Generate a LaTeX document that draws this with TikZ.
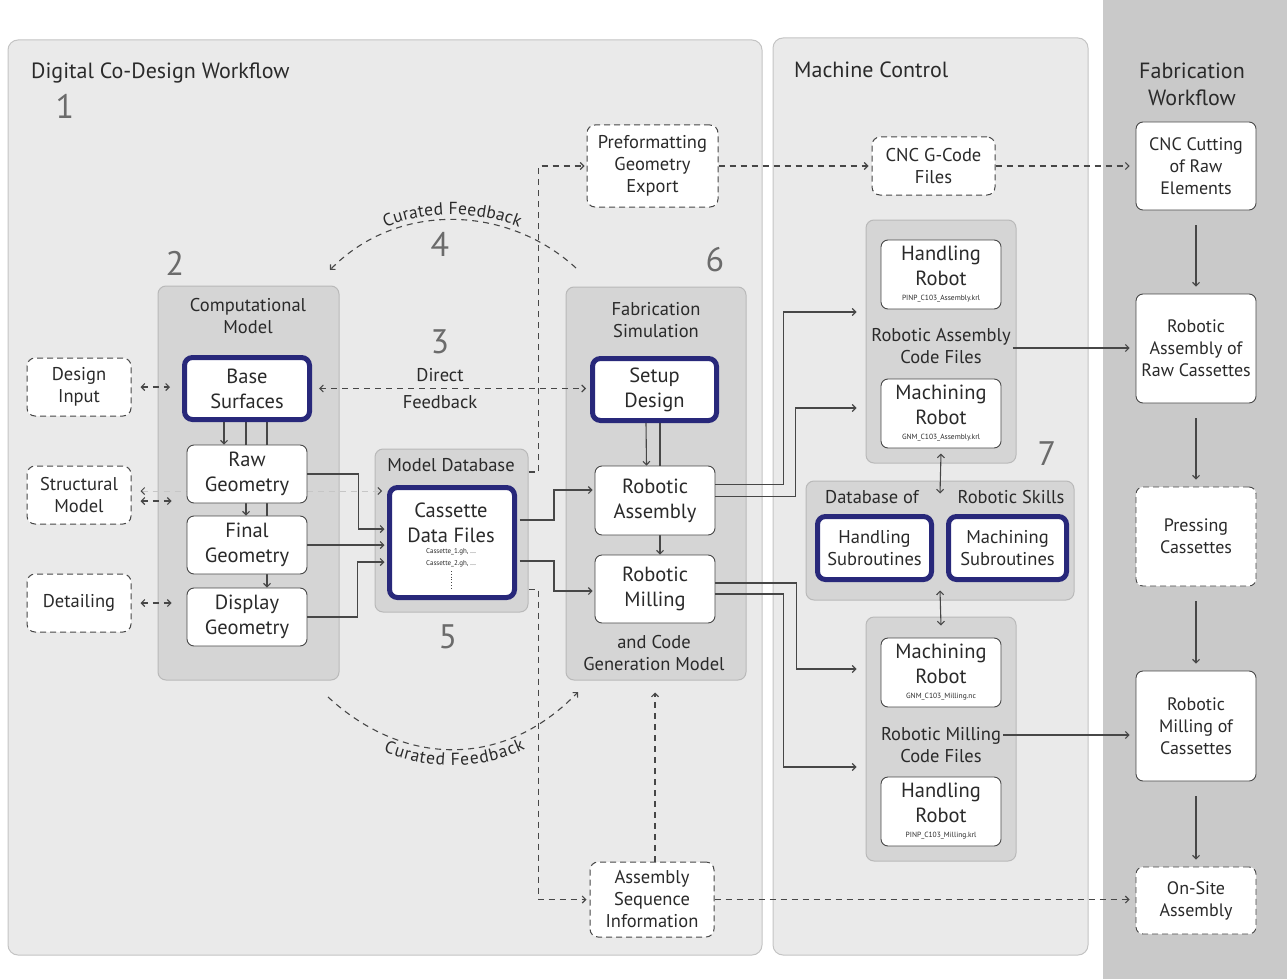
\documentclass[tikz,border=0pt]{standalone}
\usepackage{fontspec}
\setmainfont{PT Sans}
\usetikzlibrary{arrows.meta,calc,decorations.text}
\definecolor{navyc}{HTML}{28287A}
\definecolor{linec}{HTML}{474747}
\definecolor{txtc}{HTML}{2A2A2A}
\definecolor{numc}{HTML}{6B6B6B}
\definecolor{panelf}{HTML}{EAEAEA}
\definecolor{paneld}{HTML}{C4C4C4}
\definecolor{contf}{HTML}{D5D5D5}
\definecolor{contd}{HTML}{B9B9B9}
\definecolor{bandc}{HTML}{C9C9C9}
\definecolor{faintc}{HTML}{C6C6C6}
\pgfdeclarelayer{bg}
\pgfdeclarelayer{mid}
\pgfsetlayers{bg,mid,main}
\newcommand\smallfile[1]{{\fontsize{7.5}{9}\selectfont #1}}
\newcommand\cffont{\fontsize{17.5}{17.5}\selectfont\color{txtc}}
\tikzset{
  sz/.style 2 args={minimum width=#1pt, minimum height=#2pt},
  txt/.style={text=txtc, align=center, inner sep=0pt},
  fbig/.style={font=\fontsize{20.5}{25}\selectfont},
  fmid/.style={font=\fontsize{18.5}{22}\selectfont},
  fsml/.style={font=\fontsize{18}{22}\selectfont},
  ttl/.style={txt, font=\fontsize{22}{27}\selectfont},
  clab/.style={txt, fmid},
  num/.style={text=numc, inner sep=0pt, font=\fontsize{34}{34}\selectfont},
  panel/.style={draw=paneld, fill=panelf, line width=1pt, rounded corners=10pt, inner sep=0pt},
  cont/.style={draw=contd, fill=contf, line width=1pt, rounded corners=8pt, inner sep=0pt},
  wbox/.style={txt, fbig, draw=linec, line width=0.9pt, fill=white, rounded corners=7pt},
  nbox/.style={txt, fbig, draw=navyc, line width=5pt, fill=white, rounded corners=8pt},
  dbox/.style={txt, fmid, draw=linec, line width=1pt, fill=white, rounded corners=8pt, dash pattern=on 6pt off 4pt},
  fbox/.style={wbox, fsml},
  conn/.style={draw=linec, line width=1.1pt, ->},
  dconn/.style={conn, dash pattern=on 6pt off 5pt},
  bidash/.style={dconn, <->, shorten <=9pt, shorten >=6pt},
  faint/.style={draw=faintc, line width=1pt, dash pattern=on 6pt off 5pt,
    {Straight Barb[color=linec,length=3.5pt,width=7pt]}-{Straight Barb[color=linec,length=3.5pt,width=7pt]},
    shorten <=9pt, shorten >=5pt},
}
\begin{document}
\begin{tikzpicture}[x=1pt,y=-1pt,>={Straight Barb[length=3.5pt,width=7pt]}]
\useasboundingbox (0,0) rectangle (1287,979);

\begin{pgfonlayer}{bg}
\fill[white] (0,0) rectangle (1287,979);
\node[panel, sz={754}{915}] (p1) at (385,497.5) {};
\node[panel, sz={315}{917}] (p2) at (930.5,496.5) {};
\node[fill=bandc, inner sep=0pt, sz={184}{979}] (p3) at (1195,489.5) {};
\node[cont, sz={181}{394}] (cm) at (248.5,483) {};
\node[cont, sz={153}{163}] (mdb) at (451.5,530.5) {};
\node[cont, sz={180}{393}] (fs) at (656,483.5) {};
\node[cont, sz={150}{243}] (acf) at (941,341.5) {};
\node[cont, sz={268}{119}] (sk) at (940,540.5) {};
\node[cont, sz={150}{244}] (mcf) at (941,739) {};
\end{pgfonlayer}

% titles and numbers
\node[ttl, anchor=west] (t1) at (31,73) {Digital Co-Design Workflow};
\node[ttl, anchor=west] (t2) at (794,70) {Machine Control};
\node[ttl] (t3) at (1192,84) {Fabrication\\Workflow};
\node[num] (n1) at (65,106) {1};
\node[num] (n2) at (175,263) {2};
\node[num] (n3) at (440,342) {3};
\node[num] (n4) at (440,244) {4};
\node[num] (n5) at (448,637) {5};
\node[num] (n6) at (715,260) {6};
\node[num] (n7) at (1047,454) {7};

% container labels
\node[clab] (cmt) at (248,316) {Computational\\Model};
\node[clab] (mdt) at (451,465) {Model Database};
\node[clab] (fst) at (656,320) {Fabrication\\Simulation};
\node[clab] (fsb) at (654,653) {and Code\\Generation Model};
\node[clab] (acft) at (941,346) {Robotic Assembly\\Code Files};
\node[clab] (mcft) at (941,745) {Robotic Milling\\Code Files};
\node[clab] (sk1) at (872,497) {Database of};
\node[clab] (sk2) at (1011,497) {Robotic Skills};
\node[txt, font=\fontsize{18.5}{27}\selectfont] (dft) at (440,389) {Direct\\Feedback};

% boxes
\node[dbox, sz={104}{58}] (di) at (79,387) {Design\\Input};
\node[dbox, sz={104}{58}] (sm) at (79,495) {Structural\\Model};
\node[dbox, sz={104}{58}] (dt) at (79,603) {Detailing};
\node[nbox, sz={125}{62}] (base) at (247,388.5) {Base\\Surfaces};
\node[wbox, sz={120}{58}] (raw) at (247,474) {Raw\\Geometry};
\node[wbox, sz={120}{58}] (fin) at (247,545) {Final\\Geometry};
\node[wbox, sz={120}{58}] (disp) at (247,617) {Display\\Geometry};
\node[nbox, sz={125}{110}] (cass) at (452,542.5) {};
\node[txt, fbig] (casst) at (451,523) {Cassette\\Data Files};
\node[txt, font=\fontsize{7}{12}\selectfont] (cassf) at (451,558) {Cassette\_1.gh, ...\\Cassette\_2.gh, ...};
\draw[linec, dotted, line width=0.8pt] (451,571) -- (451,588);
\node[nbox, sz={124}{62}] (setup) at (654.5,389.5) {Setup\\Design};
\node[wbox, sz={120}{69}] (ra) at (655,500.5) {Robotic\\Assembly};
\node[wbox, sz={120}{68}] (rm) at (655,589) {Robotic\\Milling};
\node[dbox, sz={131}{82}] (pre) at (652.5,166) {Preformatting\\Geometry\\Export};
\node[dbox, sz={124}{75}] (asi) at (652,899.5) {Assembly\\Sequence\\Information};
\node[dbox, sz={123}{58}] (cnc) at (933.5,166) {CNC G-Code\\Files};
\node[wbox, sz={120}{69}] (hr1) at (941,274.5) {Handling\\Robot\\[-10pt]\smallfile{PINP\_C103\_Assembly.krl}};
\node[wbox, sz={120}{69}] (mr1) at (941,413.5) {Machining\\Robot\\[-10pt]\smallfile{GNM\_C103\_Assembly.krl}};
\node[nbox, fmid, sz={114}{63}] (hs) at (874.5,548) {Handling\\Subroutines};
\node[nbox, fmid, sz={118}{63}] (ms) at (1007.5,548) {Machining\\Subroutines};
\node[wbox, sz={120}{69}] (mr2) at (941,672.5) {Machining\\Robot\\[-10pt]\smallfile{GNM\_C103\_Milling.nc}};
\node[wbox, sz={120}{69}] (hr2) at (941,811.5) {Handling\\Robot\\[-10pt]\smallfile{PINP\_C103\_Milling.krl}};
\node[fbox, sz={120}{88}] (f1) at (1196,166) {CNC Cutting\\of Raw\\Elements};
\node[fbox, sz={120}{109}] (f2) at (1196,348.5) {Robotic\\Assembly of\\Raw Cassettes};
\node[fbox, dash pattern=on 6pt off 4pt, sz={120}{99}] (f3) at (1196,536.5) {Pressing\\Cassettes};
\node[fbox, sz={120}{110}] (f4) at (1196,726) {Robotic\\Milling of\\Cassettes};
\node[fbox, dash pattern=on 6pt off 4pt, sz={120}{67}] (f5) at (1196,900.5) {On-Site\\Assembly};

% connectors behind boxes
\begin{pgfonlayer}{mid}
\draw[faint] ($(sm.east)+(0,-4)$) -- ($(sm.east -| cass.west)+(0,-4)$);
\draw[conn] ([xshift=-1pt]base.south) -- ([xshift=-1pt]fin.north);
\draw[conn] ([xshift=20pt]base.south) -- ([xshift=20pt]disp.north);
\draw[conn] ([xshift=5.5pt]setup.south) -- ([xshift=5pt]rm.north);
\end{pgfonlayer}

% left side
\draw[bidash, shorten >=12pt] (di.east) -- (di.east -| base.west);
\draw[bidash, shorten >=15pt] ($(sm.east)+(0,6)$) -- ($(sm.east -| raw.west)+(0,6)$);
\draw[bidash, shorten >=15pt] (dt.east) -- (dt.east -| disp.west);
\draw[conn] ([xshift=-23pt]base.south) -- ([xshift=-23pt]raw.north);
\draw[conn, shorten >=2.5pt] (raw.east) -- ++(51,0) |- ($(cass.west)+(0,-13.5)$);
\draw[conn, shorten >=2.5pt] (fin.east) -- (fin.east -| cass.west);
\draw[conn, shorten >=2.5pt] (disp.east) -- ++(50,0) |- ($(cass.west)+(0,19.5)$);
\draw[bidash, shorten <=7pt, shorten >=4pt] (base.east) -- (base.east -| setup.west);

% simulation
\draw[conn] ([xshift=-8.5pt]setup.south) -- ([xshift=-8.5pt]ra.north);
\draw[conn, shorten <=2.5pt, shorten >=2pt] ($(cass.east)+(0,-22.5)$) -- ++(37,0) |- ($(ra.west)+(0,-10.5)$);
\draw[conn, shorten <=2.5pt, shorten >=2pt] ($(cass.east)+(0,18.5)$) -- ++(37,0) |- ($(rm.west)+(0,2)$);
\draw[dconn, shorten >=2pt] ($(mdb.east)+(0,-58.5)$) -- ++(10,0) |- (pre.west);
\draw[dconn, shorten >=3pt] ($(mdb.east)+(0,59)$) -- ++(10,0) |- (asi.west);
\draw[dconn, shorten >=12pt] ([xshift=3pt]asi.north) -- ([xshift=3pt]asi.north |- fs.south);
\draw[dconn, shorten >=6pt] (asi.east) -- (asi.east -| f5.west);
\draw[dconn, shorten >=3pt] (pre.east) -- (cnc.west);
\draw[dconn, shorten >=6pt] (cnc.east) -- (f1.west);

% machine control
\draw[conn, shorten >=9pt] ($(ra.east)+(0,-16)$) -- ++(68,0) |- ($(acf.west)+(0,-29.5)$);
\draw[conn, shorten >=9pt] ($(ra.east)+(0,-4)$) -- ++(80,0) |- ($(acf.west)+(0,66.5)$);
\draw[conn, shorten >=9pt] ($(rm.east)+(0,-6)$) -- ++(81,0) |- ($(mcf.west)+(0,-70)$);
\draw[conn, shorten >=9pt] ($(rm.east)+(0,5)$) -- ++(68,0) |- ($(mcf.west)+(0,28)$);
\draw[conn, shorten <=2pt, shorten >=6pt] ($(acft.east)+(0,2)$) -- ($(acft.east -| f2.west)+(0,2)$);
\draw[conn, shorten <=2pt, shorten >=6pt] ($(mcft.east)+(0,-10)$) -- ($(mcft.east -| f4.west)+(0,-10)$);
\draw[conn, <->] ($(acf.south)+(0,-10)$) -- ($(sk.north)+(0,13)$);
\draw[conn, <->] ($(sk.south)+(0,-10)$) -- ($(mcf.north)+(0,9)$);

% fabrication workflow
\draw[conn, shorten <=15pt, shorten >=7pt] (f1.south) -- (f2.north);
\draw[conn, shorten <=15pt, shorten >=7pt] (f2.south) -- (f3.north);
\draw[conn, shorten <=15pt, shorten >=7pt] (f3.south) -- (f4.north);
\draw[conn, shorten <=15pt, shorten >=7pt] (f4.south) -- (f5.north);

% curated feedback arcs
\coordinate (cfa) at (576,268);
\coordinate (cfb) at (330,270);
\draw[dconn] (cfa) .. controls (505,203) and (395,203) .. (cfb);
\path[decorate, decoration={text along path, text={|\cffont|Curated Feedback}, text align=center, raise=5pt}]
  (cfb) .. controls (395,203) and (505,203) .. (cfa);
\coordinate (cfc) at (328,697);
\coordinate (cfd) at (578,692);
\draw[dconn] (cfc) .. controls (405,768) and (505,768) .. (cfd);
\path[decorate, decoration={text along path, text={|\cffont|Curated Feedback}, text align=center, raise=-16pt}]
  (cfc) .. controls (405,768) and (505,768) .. (cfd);
\end{tikzpicture}
\end{document}
